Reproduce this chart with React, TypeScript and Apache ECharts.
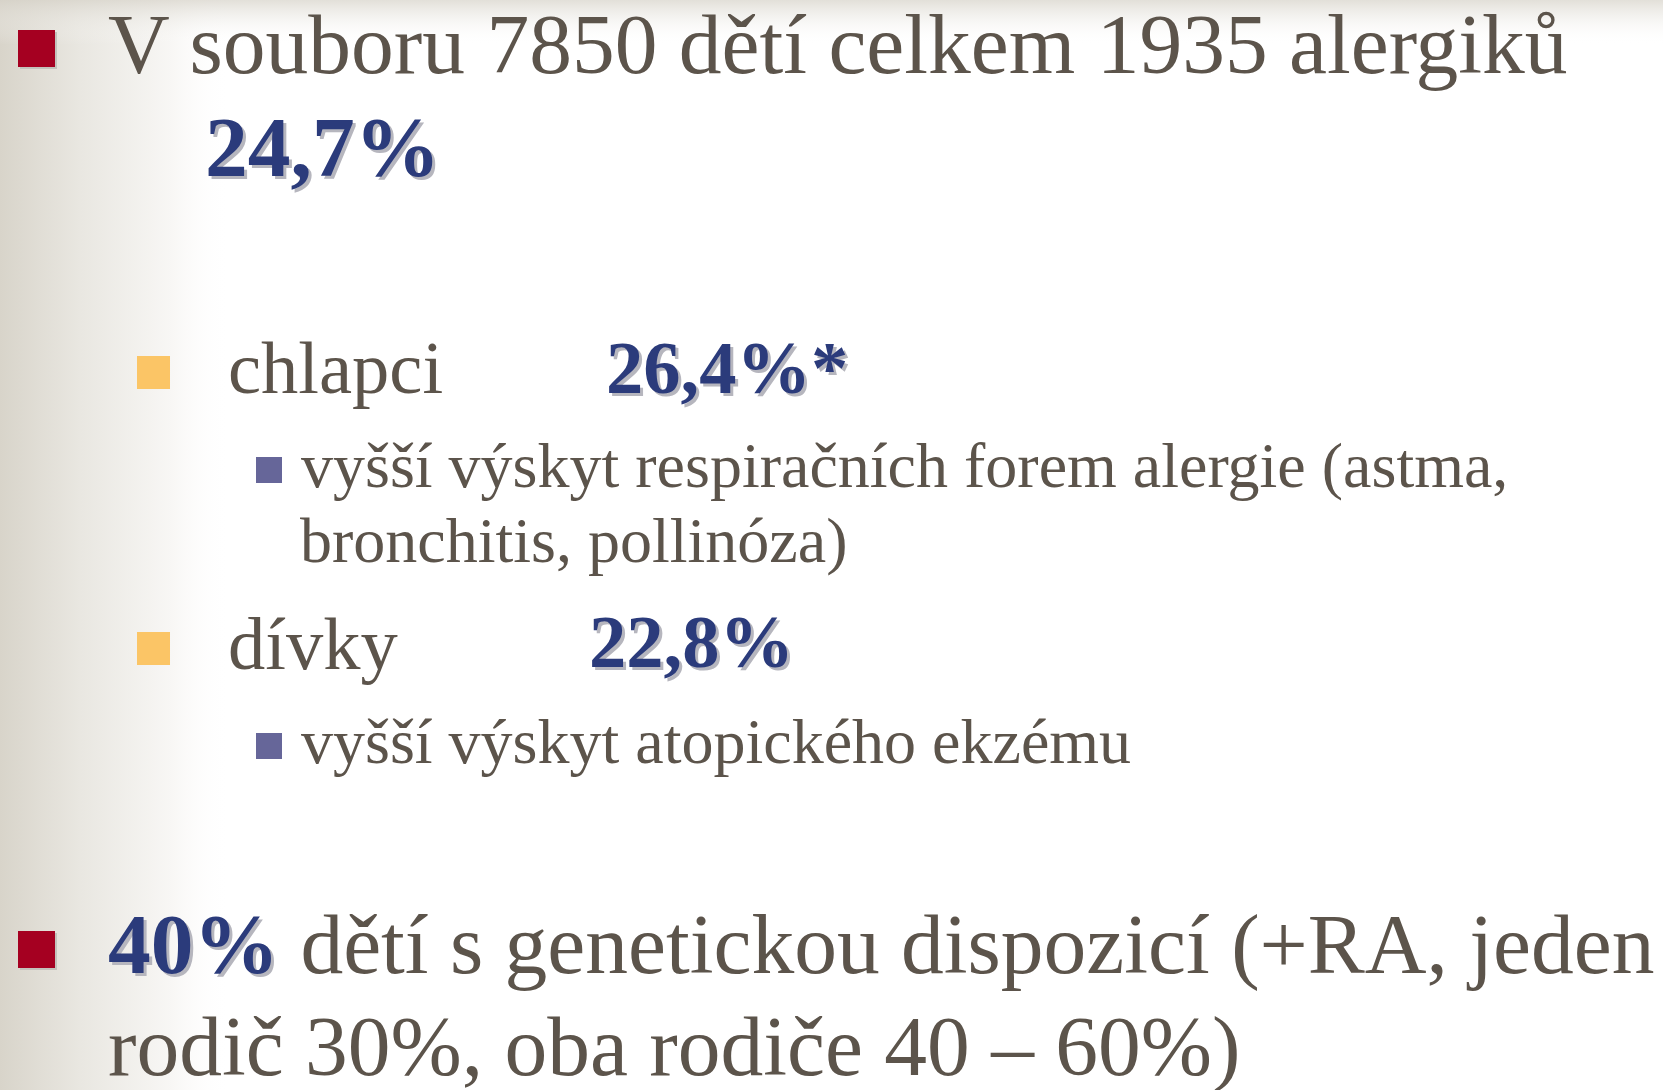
import React, { useEffect, useRef } from "react";
import * as echarts from "echarts";

const W = 1663;
const H = 1090;
const FONT = '"Liberation Serif", "Times New Roman", serif';
const TEXT = "#5c544b";
const BLUE = "#2b3b7b";
const SHADOW = "#b6b6be";
const RED = "#a50021";
const ORANGE = "#fbc566";
const PURPLE = "#666699";

// slide content
const headline = "V souboru 7850 dětí celkem 1935 alergiků";
const totalShare = "24,7%";
const groups = ["chlapci", "dívky"];
const groupShares = ["26,4%*", "22,8%"];
const groupNotes = [
  ["vyšší výskyt respiračních forem alergie (astma,", "bronchitis, pollinóza)"],
  ["vyšší výskyt atopického ekzému"],
];
const geneticShare = "40%";
const geneticRest = [" dětí s genetickou dispozicí (+RA, jeden", "rodič 30%, oba rodiče 40 – 60%)"];

const K = 0.34; // central baseline offset (em)

function measure(text: string, size: number, weight: string) {
  const c = document.createElement("canvas").getContext("2d")!;
  c.font = `${weight} ${size}px ${FONT}`;
  return c.measureText(text).width;
}

function txt(x: number, baseline: number, text: string, size: number, opts: any = {}) {
  return {
    type: "text",
    x,
    y: baseline - K * size,
    silent: true,
    style: {
      text,
      fontSize: size,
      lineHeight: Math.round(size * 0.8),
      fontFamily: FONT,
      fontWeight: opts.bold ? "bold" : "normal",
      fill: opts.fill || TEXT,
      align: "left",
      verticalAlign: "middle",
    },
  };
}

function boldShadowed(x: number, baseline: number, text: string, size: number) {
  return [
    txt(x + 3, baseline + 3, text, size, { bold: true, fill: SHADOW }),
    txt(x, baseline, text, size, { bold: true, fill: BLUE }),
  ];
}

function bullet(x: number, y: number, s: number, color: string, shadow = false) {
  const els: any[] = [];
  if (shadow) els.push({ type: "rect", shape: { x: x + 2, y: y + 2, width: s, height: s }, style: { fill: "#c4c2bc" } });
  els.push({ type: "rect", shape: { x, y, width: s, height: s }, style: { fill: color } });
  return els;
}

export default function App() {
  const ref = useRef<HTMLDivElement>(null);
  useEffect(() => {
    document.body.style.margin = "0";
    const chart = echarts.init(ref.current!, null, { renderer: "svg" });
    const F1 = 85.5;
    const F2 = 74.5;
    const F3 = 64;
    const boldW = measure(geneticShare, F1, "bold");
    const elements: any[] = [
      {
        type: "rect",
        shape: { x: 0, y: 0, width: W, height: H },
        style: { fill: "#ffffff" },
      },
      {
        type: "rect",
        shape: { x: 0, y: 0, width: 230, height: H },
        style: {
          fill: new echarts.graphic.LinearGradient(0, 0, 1, 0, [
            { offset: 0, color: "#d8d4ca" },
            { offset: 0.35, color: "#e9e7e1" },
            { offset: 0.75, color: "#f8f7f5" },
            { offset: 1, color: "rgba(255,255,255,0)" },
          ]),
        },
      },
      {
        type: "rect",
        shape: { x: 0, y: 0, width: W, height: 45 },
        style: {
          fill: new echarts.graphic.LinearGradient(0, 0, 0, 1, [
            { offset: 0, color: "rgba(214,210,200,0.7)" },
            { offset: 1, color: "rgba(255,255,255,0)" },
          ]),
        },
      },
      ...bullet(18, 30, 37, RED, true),
      txt(108, 73, headline, F1),
      ...boldShadowed(205, 176, totalShare, F1),

      ...bullet(137, 356, 33, ORANGE),
      txt(228, 393, groups[0], F2),
      ...boldShadowed(606, 393, groupShares[0], F2),
      ...bullet(256, 457, 26, PURPLE),
      txt(301, 487, groupNotes[0][0], F3),
      txt(300, 562, groupNotes[0][1], F3),

      ...bullet(137, 632, 33, ORANGE),
      txt(228, 669, groups[1], F2),
      ...boldShadowed(589, 667, groupShares[1], F2),
      ...bullet(256, 733, 26, PURPLE),
      txt(301, 763, groupNotes[1][0], F3),

      ...bullet(18, 931, 37, RED, true),
      ...boldShadowed(108, 973, geneticShare, F1),
      txt(108 + boldW, 973, geneticRest[0], F1),
      txt(108, 1075, geneticRest[1], F1),
    ];
    chart.setOption({
      animation: false,
      graphic: { elements },
    });
    return () => chart.dispose();
  }, []);
  return <div ref={ref} style={{ width: W, height: H }} />;
}
